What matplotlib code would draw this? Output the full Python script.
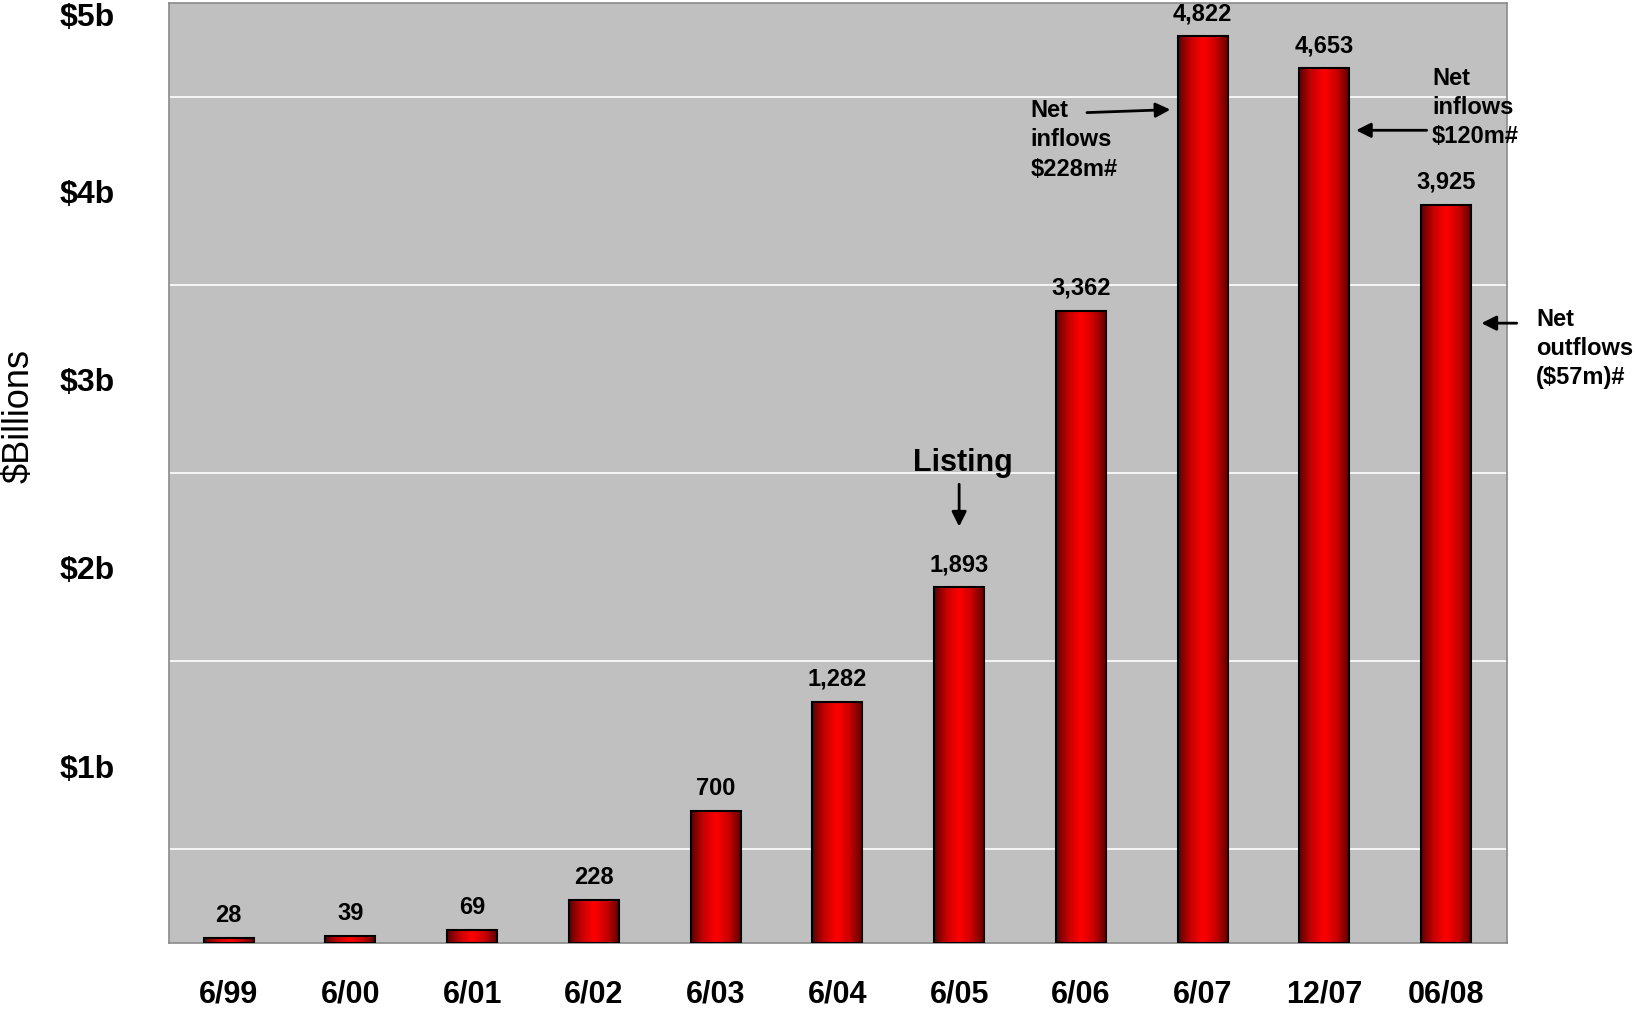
import numpy as np
import matplotlib
matplotlib.use('Agg')
import matplotlib.pyplot as plt
from matplotlib.colors import LinearSegmentedColormap

plt.rcParams['font.family'] = ['Liberation Sans', 'DejaVu Sans']

# ── Data ──────────────────────────────────────────────
periods = ["6/99", "6/00", "6/01", "6/02", "6/03", "6/04",
           "6/05", "6/06", "6/07", "12/07", "06/08"]
fum = [28, 39, 69, 228, 700, 1282, 1893, 3362, 4822, 4653, 3925]   # $m
ytick_vals = [1000, 2000, 3000, 4000, 5000]
ytick_text = ["$1b", "$2b", "$3b", "$4b", "$5b"]

GREY_BG = "#C0C0C0"
BAR_W = 0.41

fig = plt.figure(figsize=(16.35, 10.13), dpi=100)
ax = fig.add_axes([169/1635, 1-943/1013, (1507-169)/1635, (943-3)/1013])
ax.set_facecolor(GREY_BG)

# gradient red bars (dark edges, bright centre)
cmap = LinearSegmentedColormap.from_list("redbar", ["#5e0000", "#c80000", "#ff0000", "#c80000", "#5e0000"])
grad = np.linspace(0, 1, 256)[np.newaxis, :]
x = np.arange(len(periods))
for xi, v in zip(x, fum):
    ax.imshow(grad, extent=[xi - BAR_W/2, xi + BAR_W/2, 0, v], aspect='auto',
              cmap=cmap, zorder=2, interpolation='bilinear')
ax.bar(x, fum, width=BAR_W, facecolor='none', edgecolor='black', linewidth=1.5, zorder=3)

# value labels
for xi, v in zip(x, fum):
    ax.annotate(f"{v:,}", (xi, v), xytext=(0, 8), textcoords='offset points',
                ha='center', va='bottom', fontsize=17, fontweight='bold')

ax.set_xlim(-0.49, 10.5)
ax.set_ylim(0, 5000)

# grid every $0.5b
ax.set_yticks(np.arange(500, 5001, 500), minor=True)
ax.yaxis.grid(True, which='minor', color='white', linewidth=1.2, zorder=1)
ax.set_axisbelow(True)

ax.set_yticks(ytick_vals)
ax.set_yticklabels(ytick_text, fontsize=23, fontweight='bold')
for lbl, t in zip(ax.get_yticklabels(), ytick_text):
    if t in ("$1b", "$5b"):
        lbl.set_va('top')
ax.tick_params(axis='y', which='both', length=0, pad=39)

ax.set_xticks(x)
ax.set_xticklabels(periods, fontsize=22, fontweight='bold')
ax.tick_params(axis='x', length=0, pad=26)

for s in ax.spines.values():
    s.set_color('#8a8a8a')
    s.set_linewidth(1.2)

fig.text(19/1635, 1-416/1013, "$Billions", rotation=90, fontsize=26,
         ha='center', va='center')

# annotations
arrow = dict(arrowstyle='-|>', color='black', lw=2, mutation_scale=22,
             shrinkA=0, shrinkB=0)
ax.text(6.03, 2553, "Listing", fontsize=22, fontweight='bold', ha='center', va='center')
ax.annotate("", xy=(6, 2215), xytext=(6, 2440), arrowprops=arrow)

ax.text(6.585, 4272, "Net\ninflows\n$228m#", fontsize=17, fontweight='bold',
        ha='left', va='center', linespacing=1.35)
ax.annotate("", xy=(7.735, 4433), xytext=(7.05, 4417), arrowprops=arrow)

ax.text(9.885, 4444, "Net\ninflows\n$120m#", fontsize=17, fontweight='bold',
        ha='left', va='center', linespacing=1.35, clip_on=False)
ax.annotate("", xy=(9.26, 4323), xytext=(9.84, 4323), arrowprops=arrow,
            annotation_clip=False)

ax.text(10.74, 3162, "Net\noutflows\n($57m)#", fontsize=17, fontweight='bold',
        ha='left', va='center', linespacing=1.35, clip_on=False)
ax.annotate("", xy=(10.29, 3297), xytext=(10.58, 3297), arrowprops=arrow,
            annotation_clip=False)

plt.savefig("out.png", dpi=100)
plt.close()
